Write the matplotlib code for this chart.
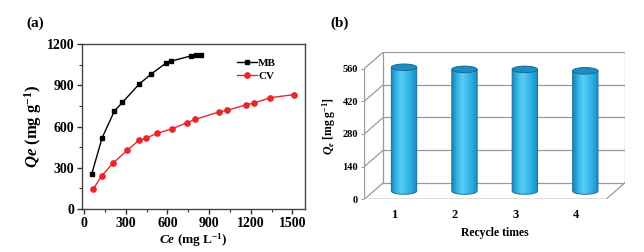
import numpy as np
import matplotlib
matplotlib.use("Agg")
import matplotlib.pyplot as plt
from matplotlib.patches import Ellipse, PathPatch
from matplotlib.path import Path
from matplotlib.colors import LinearSegmentedColormap

plt.rcParams['font.family'] = ['Liberation Serif', 'DejaVu Serif']
plt.rcParams['font.weight'] = 'bold'
plt.rcParams['axes.labelweight'] = 'bold'
plt.rcParams['mathtext.fontset'] = 'custom'
plt.rcParams['mathtext.rm'] = 'Liberation Serif:bold'
plt.rcParams['mathtext.it'] = 'Liberation Serif:italic:bold'
plt.rcParams['mathtext.bf'] = 'Liberation Serif:bold'

# ---- data panel (a) ----
mb_ce = [55, 130, 218, 276, 396, 485, 588, 626, 768, 806, 840]
mb_qe = [255, 518, 712, 775, 908, 983, 1060, 1075, 1113, 1118, 1123]
cv_ce = [67, 127, 211, 312, 396, 446, 525, 634, 739, 799, 974, 1027, 1166, 1226, 1339, 1510]
cv_qe = [147, 242, 336, 428, 500, 515, 550, 583, 627, 651, 707, 717, 757, 772, 809, 832]
a_xticks = [0, 300, 600, 900, 1200, 1500]
a_yticks = [0, 300, 600, 900, 1200]

# ---- data panel (b) ----
cycles = [1, 2, 3, 4]
capacity = [530, 521, 521, 515]
b_yticks = [0, 140, 280, 420, 560]

W, H = 644, 252
fig = plt.figure(figsize=(W / 100, H / 100), dpi=100)

def fr(l, t, r, b):
    return [l / W, 1 - b / H, (r - l) / W, (b - t) / H]

# ================= panel (a) =================
ax = fig.add_axes(fr(82, 44, 305, 209))
ax.plot(mb_ce, mb_qe, '-s', color='black', lw=1.0, ms=3.2, label='MB')
ax.plot(cv_ce, cv_qe, '-o', color='#e8262a', lw=1.0, ms=3.8, label='CV')
ax.set_xlim(-15, 1590)
ax.set_ylim(0, 1200)
ax.set_xticks(a_xticks)
ax.set_yticks(a_yticks)
ax.set_xticks([150, 450, 750, 1050, 1350], minor=True)
ax.set_yticks([150, 450, 750, 1050], minor=True)
ax.tick_params(which='major', direction='out', length=3.5, width=1, labelsize=10, pad=2, color='#333333')
ax.tick_params(which='minor', direction='out', length=2, width=0.8, color='#333333')
for s in ax.spines.values():
    s.set_color('#444444')
    s.set_linewidth(1.0)
ax.set_ylabel(r'$Qe$ (mg g$^{-1}$)', fontsize=12, labelpad=2)
ax.set_xlabel(r'$Ce$ (mg L$^{-1}$)', fontsize=9.5, labelpad=1)
leg = ax.legend(loc='upper right', frameon=False, fontsize=8, handlelength=1.8,
                handletextpad=0.1, labelspacing=0.25, borderaxespad=0.6,
                bbox_to_anchor=(0.92, 0.98))
fig.text(35 / W, 1 - 23 / H, '(a)', fontsize=11, ha='center', va='center')

# ================= panel (b) =================
dx = 0.315      # depth offset in category units
dy = 71.0       # depth offset in value units
ymax = 560
axb = fig.add_axes(fr(364.3, 52, 625, 199.3))
axb.set_xlim(0.5, 4.5 + dx)
axb.set_ylim(0, ymax + dy)
for s in axb.spines.values():
    s.set_visible(False)
gc = '#9a9a9a'
glw = 0.9
x0, x1 = 0.5, 4.5
# back wall
axb.plot([x0 + dx, x1 + dx, x1 + dx, x0 + dx, x0 + dx],
         [dy, dy, ymax + dy, ymax + dy, dy], color=gc, lw=glw)
for v in b_yticks[1:-1]:
    axb.plot([x0 + dx, x1 + dx], [v + dy, v + dy], color=gc, lw=glw)
# left wall
axb.plot([x0, x0], [0, ymax], color=gc, lw=glw)
for v in b_yticks:
    axb.plot([x0, x0 + dx], [v, v + dy], color=gc, lw=glw)
# floor
axb.plot([x0, x1, x1 + dx], [0, 0, dy], color=gc, lw=glw)

axb.set_yticks(b_yticks)
axb.set_xticks(cycles)
axb.tick_params(axis='y', direction='out', length=2.5, width=0.8, color=gc, labelsize=7.5, pad=2)
axb.tick_params(axis='x', length=0, labelsize=9, pad=7)
axb.set_ylabel(r'$Q_e$ [mg g$^{-1}$]', fontsize=8.5, labelpad=3)
axb.set_xlabel('Recycle times', fontsize=8.5, labelpad=4)

# cylinders
cw = 0.42
eh = 28.0
cmap = LinearSegmentedColormap.from_list(
    'cyl', ['#1a86b8', '#34b4e4', '#5acdf5', '#3dbcec', '#28a8dd', '#1a88bd'])
grad = np.linspace(0, 1, 64).reshape(1, -1)
for c, v in zip(cycles, capacity):
    xc = c + dx / 2
    yb = dy / 2
    yt = yb + v
    t = np.linspace(np.pi, 2 * np.pi, 40)
    arc = np.column_stack([xc + cw / 2 * np.cos(t), yb + eh / 2 * np.sin(t)])
    verts = np.vstack([[xc - cw / 2, yt], arc, [xc + cw / 2, yt], [xc - cw / 2, yt]])
    codes = [Path.MOVETO] + [Path.LINETO] * (len(verts) - 2) + [Path.CLOSEPOLY]
    path = Path(verts, codes)
    patch = PathPatch(path, facecolor='none', edgecolor='#1a6f98', lw=0.7, zorder=4)
    axb.add_patch(patch)
    im = axb.imshow(grad, cmap=cmap, aspect='auto', zorder=3,
                    extent=[xc - cw / 2, xc + cw / 2, yb - eh / 2, yt],
                    interpolation='bilinear')
    im.set_clip_path(patch)
    top = Ellipse((xc, yt), cw, eh, facecolor='#1d8ec4', edgecolor='#176a94', lw=0.7, zorder=5)
    axb.add_patch(top)
axb.set_xlim(0.5, 4.5 + dx)
axb.set_ylim(0, ymax + dy)
axb.set_aspect('auto')
fig.text(340 / W, 1 - 23 / H, '(b)', fontsize=11, ha='center', va='center')

fig.savefig('out.png', dpi=100)
